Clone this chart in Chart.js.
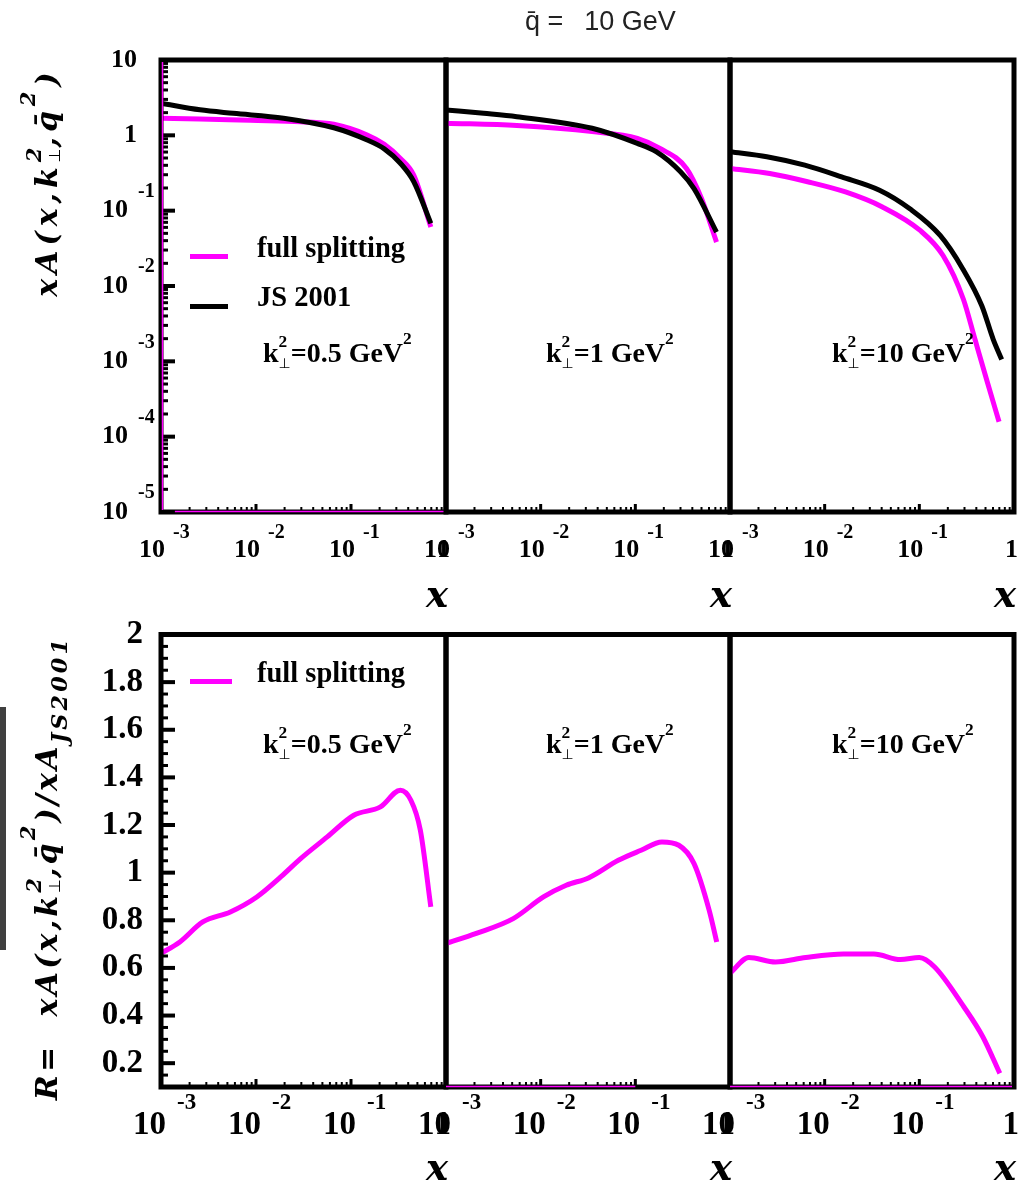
<!DOCTYPE html>
<html>
<head>
<meta charset="utf-8">
<script src="https://cdn.jsdelivr.net/npm/chart.js@4.4.1/dist/chart.umd.min.js"></script>
<style>
  html, body { margin: 0; padding: 0; background: #fff; }
  body { position: relative; width: 1018px; height: 1184px; overflow: hidden; }
  canvas { position: absolute; left: 0; top: 0; }
  #labels { position: absolute; left: 0; top: 0; width: 1018px; height: 1184px; z-index: 5; }
  .anchor { position: absolute; width: 0; height: 0; transform-origin: 0 0; }
  .txt { position: absolute; white-space: nowrap; color: #000; line-height: normal; }
  .bl { display: inline-block; width: 0; height: 0; vertical-align: baseline; }
  .ann { font-family: "Liberation Serif", "Times New Roman", serif; font-weight: bold; font-size: 28px; }
  .leg { font-family: "Liberation Serif", "Times New Roman", serif; font-weight: bold; font-size: 28.5px; }
  .ytl { font-family: "DejaVu Serif", serif; font-weight: bold; font-style: italic; font-size: 30px; letter-spacing: 5px; }
  .ytl.long { letter-spacing: 3.2px; }
  .axx { font-family: "DejaVu Serif", serif; font-weight: bold; font-style: italic; font-size: 37px; }
  .head { font-family: "Liberation Sans", Arial, sans-serif; font-weight: normal; font-size: 27px; color: #222; }
  /* stacked k-perp indices: superscript 2 over subscript perp */
  .stkS { display: inline-block; font-size: .62em; line-height: 1.37; vertical-align: -0.355em; }
  .stkS > span, .stkM > span { display: block; }
  .perpS { font-size: .8em; font-family: "DejaVu Sans", sans-serif; font-weight: normal; }
  .supS { font-size: .62em; vertical-align: 1.02em; }
  .stkM { display: inline-block; font-size: .7em; line-height: 1.2; vertical-align: -0.14em; letter-spacing: 0; }
  .perpM { font-size: .75em; font-family: "DejaVu Sans", sans-serif; font-weight: normal; font-style: normal; }
  .supM { font-size: .7em; vertical-align: 1.05em; }
  .subM { font-size: .74em; vertical-align: -.46em; }
  .gbar { position: absolute; left: 0; top: 707px; width: 6px; height: 243px; background: #404040; }
  .lg { position: absolute; height: 5px; }
</style>
</head>
<body>
<div class="gbar"></div>
<div id="labels"></div>
<script>
// ---------------- data ----------------
// xA(x, k_perp^2, qbar^2) at qbar = 10 GeV; three k_perp^2 values
const kPerp2 = ['0.5', '1', '10'];
const seriesNames = ['full splitting', 'JS 2001'];

// k_perp^2 = 0.5 GeV^2
const x05Full = [0.001, 0.00257, 0.0087, 0.0295, 0.066, 0.148, 0.224, 0.331, 0.457, 0.692];
const a05Full = [1.69, 1.65, 1.58, 1.52, 1.40, 1.01, 0.759, 0.493, 0.296, 0.0607];
const x05JS = [0.001, 0.00257, 0.00575, 0.0195, 0.066, 0.148, 0.224, 0.331, 0.457, 0.692];
const a05JS = [2.67, 2.18, 1.96, 1.69, 1.26, 0.867, 0.661, 0.426, 0.244, 0.0678];

// k_perp^2 = 1 GeV^2
const x1Full = [0.001, 0.0056, 0.035, 0.105, 0.182, 0.347, 0.50, 0.72];
const a1Full = [1.45, 1.35, 1.12, 0.912, 0.671, 0.363, 0.145, 0.0383];
const x1JS = [0.001, 0.0025, 0.0056, 0.035, 0.105, 0.166, 0.30, 0.417, 0.72];
const a1JS = [2.17, 1.96, 1.77, 1.24, 0.782, 0.607, 0.328, 0.196, 0.052];

// k_perp^2 = 10 GeV^2
const x10Full = [0.001, 0.00263, 0.0066, 0.0166, 0.0407, 0.102, 0.178, 0.292, 0.387, 0.515, 0.695];
const a10Full = [0.363, 0.311, 0.242, 0.177, 0.112, 0.0546, 0.0254, 0.00667, 0.00196, 0.000565, 0.000158];
const x10JS = [0.001, 0.00245, 0.00617, 0.0151, 0.038, 0.0794, 0.166, 0.288, 0.457, 0.603, 0.741];
const a10JS = [0.607, 0.52, 0.402, 0.281, 0.187, 0.106, 0.0469, 0.01687, 0.00547, 0.00196, 0.00106];

// ratio R = xA_full / xA_JS2001
const xR05 = [0.001, 0.00158, 0.00275, 0.00537, 0.0102, 0.0182, 0.0295, 0.0562, 0.107, 0.204, 0.331, 0.427, 0.537, 0.692];
const r05 = [0.661, 0.709, 0.793, 0.835, 0.898, 0.982, 1.059, 1.150, 1.241, 1.276, 1.346, 1.304, 1.178, 0.856];
const xR1 = [0.001, 0.00209, 0.00513, 0.0107, 0.0186, 0.0324, 0.0661, 0.115, 0.191, 0.288, 0.417, 0.603, 0.724];
const r1 = [0.703, 0.745, 0.807, 0.898, 0.947, 0.979, 1.052, 1.094, 1.129, 1.115, 1.038, 0.842, 0.709];
const xR10 = [0.001, 0.00158, 0.00302, 0.00631, 0.0158, 0.0331, 0.0631, 0.1, 0.145, 0.295, 0.468, 0.708];
const r10 = [0.577, 0.644, 0.625, 0.644, 0.658, 0.658, 0.635, 0.644, 0.604, 0.437, 0.311, 0.157];

// tick labels
const xTicks = [1e-3, 1e-2, 1e-1, 1];
const xTickBase = ['10', '10', '10', '1'];
const xTickExp = ['-3', '-2', '-1', ''];
const yTicksTop = [10, 1, 1e-1, 1e-2, 1e-3, 1e-4, 1e-5];
const yTopBase = ['10', '1', '10', '10', '10', '10', '10'];
const yTopExp = ['', '', '-1', '-2', '-3', '-4', '-5'];
const yTicksBottom = [0.2, 0.4, 0.6, 0.8, 1, 1.2, 1.4, 1.6, 1.8, 2];
const yBottomText = ['0.2', '0.4', '0.6', '0.8', '1', '1.2', '1.4', '1.6', '1.8', '2'];

// ---------------- layout ----------------
const W = 1018, H = 1184;
const cols = [[161, 446], [446, 730], [730, 1014]];
const rowTop = [60, 512], rowBottom = [634.5, 1087];
const MAGENTA = '#ff00ff';
const SERIF = '"Liberation Serif", "Times New Roman", serif';

const rowStyle = {
  top: { base: 'bold 26px ' + SERIF, exp: 'bold 20px ' + SERIF, baseDy: 38, expDy: 21, baseDx: 4, expDx: 12 },
  bottom: { base: 'bold 33px ' + SERIF, exp: 'bold 23px ' + SERIF, baseDy: 38, expDy: 16, baseDx: 5, expDx: 16 }
};

// frame, inward ticks, tick labels
const panelDecor = {
  id: 'panelDecor',
  afterDraw(chart, args, o) {
    const ctx = chart.ctx, a = chart.chartArea;
    const sx = chart.scales.x, sy = chart.scales.y;
    ctx.save();
    ctx.strokeStyle = '#000';
    ctx.lineCap = 'butt';
    const xMax = o.xTickMax || 1;
    for (let e = -3; e <= 0; e++) {
      for (let m = 1; m <= 9; m++) {
        const v = m * Math.pow(10, e);
        if (v > xMax * 1.0001) break;
        const px = sx.getPixelForValue(v);
        ctx.lineWidth = m === 1 ? 3 : 2;
        ctx.beginPath();
        ctx.moveTo(px, a.bottom);
        ctx.lineTo(px, a.bottom - (m === 1 ? 8 : 5));
        ctx.stroke();
        if (e === 0) break;
      }
    }
    if (o.yTicks === 'log') {
      for (let e = -5; e <= 1; e++) {
        for (let m = 1; m <= 9; m++) {
          const v = m * Math.pow(10, e);
          if (v > 10.0001) break;
          const py = sy.getPixelForValue(v);
          ctx.lineWidth = m === 1 ? 4 : 3;
          ctx.beginPath();
          ctx.moveTo(a.left, py);
          ctx.lineTo(a.left + (m === 1 ? 14 : 7), py);
          ctx.stroke();
        }
      }
    } else if (o.yTicks === 'lin') {
      for (let k = 2; k <= 40; k++) {
        const py = sy.getPixelForValue(k * 0.05);
        const major = k % 4 === 0;
        ctx.lineWidth = major ? 4 : 3;
        ctx.beginPath();
        ctx.moveTo(a.left, py);
        ctx.lineTo(a.left + (major ? 14 : 7), py);
        ctx.stroke();
      }
    }
    ctx.lineWidth = 5;
    ctx.strokeRect(a.left, a.top, a.right - a.left, a.bottom - a.top);

    // thin magenta traces running along the frame
    ctx.strokeStyle = MAGENTA;
    ctx.lineWidth = 1.5;
    (o.traces || []).forEach(t => {
      ctx.beginPath();
      if (t.side === 'left') {
        ctx.moveTo(a.left + 1.5, a.top + 2);
        ctx.lineTo(a.left + 1.5, a.bottom - 2);
      } else {
        ctx.moveTo(sx.getPixelForValue(t.from), a.bottom - 0.5);
        ctx.lineTo(Math.min(sx.getPixelForValue(t.to), a.right - 2), a.bottom - 0.5);
      }
      ctx.stroke();
    });

    // x tick labels
    const rs = rowStyle[o.row];
    ctx.fillStyle = '#000';
    ctx.textBaseline = 'middle';
    xTicks.forEach((v, i) => {
      const px = sx.getPixelForValue(v);
      ctx.font = rs.base; ctx.textAlign = 'right';
      ctx.fillText(xTickBase[i], px + rs.baseDx, a.bottom + rs.baseDy);
      if (xTickExp[i]) {
        ctx.font = rs.exp; ctx.textAlign = 'left';
        ctx.fillText(xTickExp[i], px + rs.expDx, a.bottom + rs.expDy);
      }
    });
    // y tick labels
    if (o.yTicks === 'log') {
      yTicksTop.forEach((v, i) => {
        const py = sy.getPixelForValue(v);
        ctx.font = rs.base; ctx.textAlign = 'right';
        if (yTopExp[i]) {
          ctx.fillText(yTopBase[i], a.left - 33, py);
          ctx.font = rs.exp; ctx.textAlign = 'left';
          ctx.fillText(yTopExp[i], a.left - 23, py - 19);
        } else {
          ctx.fillText(yTopBase[i], a.left - 24, py);
        }
      });
    } else if (o.yTicks === 'lin') {
      ctx.font = rs.base; ctx.textAlign = 'right';
      yTicksBottom.forEach((v, i) => {
        ctx.fillText(yBottomText[i], a.left - 18, sy.getPixelForValue(v));
      });
    }
    ctx.restore();
  }
};
Chart.register(panelDecor);

function pts(xs, ys) { return xs.map((x, i) => ({ x: x, y: ys[i] })); }
function series(label, xs, ys, color) {
  return { label: label, data: pts(xs, ys), borderColor: color, backgroundColor: color,
           borderWidth: 5, pointRadius: 0, fill: false, cubicInterpolationMode: 'monotone' };
}

function panel(col, row, yScale, datasets, decor) {
  const c = document.createElement('canvas');
  c.width = W; c.height = H;
  document.body.insertBefore(c, document.getElementById('labels'));
  return new Chart(c, {
    type: 'line',
    data: { datasets: datasets },
    options: {
      responsive: false, animation: false, events: [],
      layout: { padding: { left: col[0], right: W - col[1], top: row[0], bottom: H - row[1] } },
      scales: {
        x: { type: 'logarithmic', min: 1e-3, max: 1, display: false },
        y: Object.assign({ display: false }, yScale)
      },
      plugins: { legend: { display: false }, tooltip: { enabled: false }, panelDecor: decor }
    }
  });
}

const logY = { type: 'logarithmic', min: 1e-5, max: 10 };
const linY = { type: 'linear', min: 0.1, max: 2 };

// upper row: xA, both models
panel(cols[0], rowTop, logY, [series(seriesNames[1], x05JS, a05JS, '#000'), series(seriesNames[0], x05Full, a05Full, MAGENTA)],
      { row: 'top', yTicks: 'log', traces: [{ side: 'left' }, { side: 'bottom', from: 1.4e-3, to: 1 }] });
panel(cols[1], rowTop, logY, [series(seriesNames[1], x1JS, a1JS, '#000'), series(seriesNames[0], x1Full, a1Full, MAGENTA)],
      { row: 'top' });
panel(cols[2], rowTop, logY, [series(seriesNames[1], x10JS, a10JS, '#000'), series(seriesNames[0], x10Full, a10Full, MAGENTA)],
      { row: 'top' });

// lower row: ratio
panel(cols[0], rowBottom, linY, [series(seriesNames[0], xR05, r05, MAGENTA)],
      { row: 'bottom', yTicks: 'lin' });
panel(cols[1], rowBottom, linY, [series(seriesNames[0], xR1, r1, MAGENTA)],
      { row: 'bottom', xTickMax: 0.1, traces: [{ side: 'bottom', from: 1e-3, to: 0.1 }] });
panel(cols[2], rowBottom, linY, [series(seriesNames[0], xR10, r10, MAGENTA)],
      { row: 'bottom', traces: [{ side: 'bottom', from: 1e-3, to: 1 }] });

// ---------------- text ----------------
const labelsDiv = document.getElementById('labels');
function placeText(html, x, y, cls, align, rot) {
  const wrap = document.createElement('div');
  wrap.className = 'anchor';
  wrap.style.left = x + 'px';
  wrap.style.top = y + 'px';
  const el = document.createElement('div');
  el.className = 'txt ' + cls;
  el.innerHTML = '<span class="bl"></span>' + html;
  wrap.appendChild(el);
  labelsDiv.appendChild(wrap);
  const er = el.getBoundingClientRect();
  const mr = el.firstChild.getBoundingClientRect();
  el.style.top = (er.top - mr.bottom) + 'px';
  const w = er.width;
  el.style.left = (align === 'right' ? -w : align === 'center' ? -w / 2 : 0) + 'px';
  if (rot) wrap.style.transform = 'rotate(' + rot + 'deg)';
}
function legendLine(x1, x2, y, color) {
  const d = document.createElement('div');
  d.className = 'lg';
  d.style.left = x1 + 'px'; d.style.width = (x2 - x1) + 'px';
  d.style.top = (y - 2.5) + 'px'; d.style.background = color;
  labelsDiv.appendChild(d);
}

// heading
placeText('q\u0304 =<span style="margin-left:21px">10 GeV</span>', 525, 30, 'head', 'left');

const kpS = '<span class="stkS"><span>2</span><span class="perpS">\u22A5</span></span>';
const kpM = '<span class="stkM"><span>2</span><span class="perpM">\u22A5</span></span>';

// axis titles
const yTitleTop = 'xA(x,k' + kpM + ',q\u0304<span class="supM">2</span>)';
const yTitleBottom = 'R=&nbsp;&nbsp;xA(x,k' + kpM + ',q\u0304<span class="supM">2</span>)/xA<span class="subM">JS2001</span>';
placeText(yTitleTop, 57, 182, 'ytl', 'center', -90);
placeText(yTitleBottom, 57, 868, 'ytl long', 'center', -90);

cols.forEach(c => {
  placeText('x', c[1] + 2, 607, 'axx', 'right');
  placeText('x', c[1] + 2, 1180, 'axx', 'right');
});

// panel annotations
const annX = [263, 546, 832];
kPerp2.forEach((k, i) => {
  const html = 'k' + kpS + '=' + k + ' GeV<span class="supS">2</span>';
  placeText(html, annX[i], 362, 'ann', 'left');
  placeText(html, annX[i], 753, 'ann', 'left');
});

// legends
legendLine(190, 228, 256, MAGENTA);
placeText(seriesNames[0], 257, 257, 'leg', 'left');
legendLine(190, 228, 306, '#000');
placeText(seriesNames[1], 257, 306, 'leg', 'left');
legendLine(190, 232, 681, MAGENTA);
placeText(seriesNames[0], 257, 682, 'leg', 'left');
</script>
</body>
</html>
